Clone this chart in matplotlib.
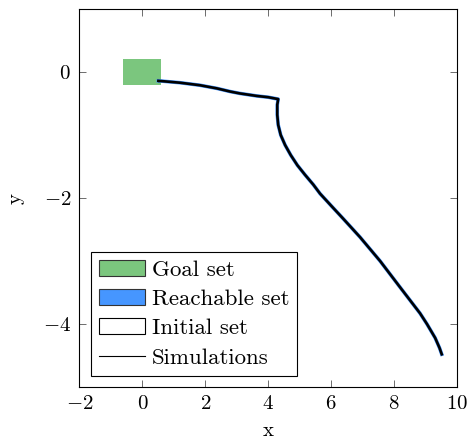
import matplotlib
matplotlib.use("Agg")
import matplotlib.pyplot as plt
from matplotlib.patches import Rectangle, Patch
from matplotlib.lines import Line2D

plt.rcParams['font.family'] = 'serif'
plt.rcParams['font.serif'] = ['cmr10']
plt.rcParams['mathtext.fontset'] = 'cm'
plt.rcParams['axes.formatter.use_mathtext'] = True

# Data
goal_x = [-0.6, 0.6]
goal_y = [-0.2, 0.2]
init_x = [0.49, 0.53]
init_y = [-0.16, -0.12]
traj_x = [0.51, 1.2, 1.83, 2.37, 2.79, 3.1, 3.64, 4.0, 4.32,
          4.29, 4.29, 4.32, 4.40, 4.54, 4.72, 4.93, 5.17, 5.44, 5.65,
          6.0, 6.39, 6.92, 7.56, 8.2, 8.83, 9.05, 9.31, 9.45, 9.52]
traj_y = [-0.14, -0.17, -0.21, -0.26, -0.31, -0.34, -0.38, -0.40, -0.43,
          -0.52, -0.68, -0.84, -1.0, -1.16, -1.32, -1.48, -1.63, -1.79, -1.93,
          -2.12, -2.33, -2.62, -3.0, -3.42, -3.83, -4.0, -4.22, -4.38, -4.48]

goal_color = '#7BC67E'
reach_color = '#4696FF'

fig = plt.figure(figsize=(4.7, 4.41), dpi=100)
ax = fig.add_axes([0.169, 0.1224, 0.803, 0.8572])

ax.add_patch(Rectangle((goal_x[0], goal_y[0]), goal_x[1] - goal_x[0], goal_y[1] - goal_y[0],
                       facecolor=goal_color, edgecolor='none'))
ax.plot(traj_x, traj_y, color=reach_color, lw=2.6, solid_joinstyle='round')
ax.add_patch(Rectangle((init_x[0], init_y[0]), init_x[1] - init_x[0], init_y[1] - init_y[0],
                       facecolor='white', edgecolor='black', lw=0.5))
ax.plot(traj_x, traj_y, color='black', lw=1.9, solid_joinstyle='round')

ax.set_xlim(-2, 10)
ax.set_ylim(-5, 1)
ax.set_xticks([-2, 0, 2, 4, 6, 8, 10])
ax.set_yticks([-4, -2, 0])
ax.tick_params(direction='in', top=True, right=True, length=5, width=0.6,
               color='#555555', labelsize=15, pad=6)
for s in ax.spines.values():
    s.set_linewidth(0.8)
ax.set_xlabel('x', fontsize=15, labelpad=6)
ax.set_ylabel('y', fontsize=15, labelpad=13)

handles = [Patch(facecolor=goal_color, edgecolor='#333333', lw=0.8, label='Goal set'),
           Patch(facecolor=reach_color, edgecolor='#333333', lw=0.8, label='Reachable set'),
           Patch(facecolor='white', edgecolor='black', lw=0.8, label='Initial set'),
           Line2D([], [], color='black', lw=0.8, label='Simulations')]
leg = ax.legend(handles=handles, loc='lower left', fontsize=16.5, fancybox=False,
                edgecolor='black', framealpha=1, borderaxespad=0.5,
                handlelength=2.0, handleheight=0.7, handletextpad=0.3,
                labelspacing=0.4, borderpad=0.35)
leg.get_frame().set_linewidth(0.8)

fig.savefig('out.png', dpi=100)
